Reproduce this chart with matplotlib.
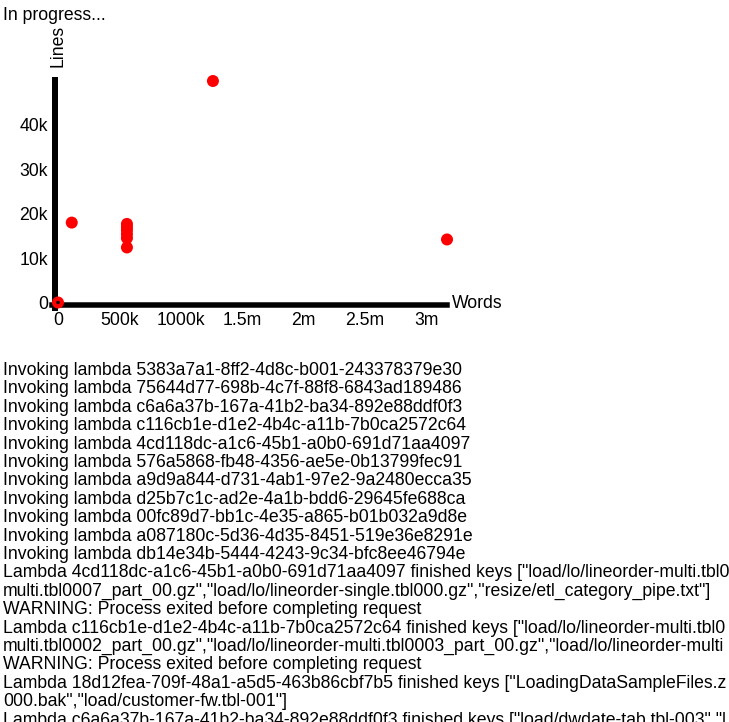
import matplotlib
matplotlib.use("Agg")
import matplotlib.pyplot as plt

plt.rcParams['font.family'] = ['Liberation Sans', 'DejaVu Sans']

# ---- data ----
words = [0, 112000, 562000, 562000, 562000, 562000, 562000, 562000, 1263000, 3171000]
lines = [0, 18000, 12400, 14500, 15400, 16300, 17000, 17700, 49900, 14200]
cursor_x = [0]
cursor_y = [0]

x_ticks = [0, 500000, 1000000, 1500000, 2000000, 2500000, 3000000]
x_tick_labels = ['0', '500k', '1000k', '1.5m', '2m', '2.5m', '3m']
y_ticks = [0, 10000, 20000, 30000, 40000]
y_tick_labels = ['0', '10k', '20k', '30k', '40k']

title_text = 'In progress...'
x_label = 'Words'
y_label = 'Lines'

log_lines = [
    'Invoking lambda 5383a7a1-8ff2-4d8c-b001-243378379e30',
    'Invoking lambda 75644d77-698b-4c7f-88f8-6843ad189486',
    'Invoking lambda c6a6a37b-167a-41b2-ba34-892e88ddf0f3',
    'Invoking lambda c116cb1e-d1e2-4b4c-a11b-7b0ca2572c64',
    'Invoking lambda 4cd118dc-a1c6-45b1-a0b0-691d71aa4097',
    'Invoking lambda 576a5868-fb48-4356-ae5e-0b13799fec91',
    'Invoking lambda a9d9a844-d731-4ab1-97e2-9a2480ecca35',
    'Invoking lambda d25b7c1c-ad2e-4a1b-bdd6-29645fe688ca',
    'Invoking lambda 00fc89d7-bb1c-4e35-a865-b01b032a9d8e',
    'Invoking lambda a087180c-5d36-4d35-8451-519e36e8291e',
    'Invoking lambda db14e34b-5444-4243-9c34-bfc8ee46794e',
    'Lambda 4cd118dc-a1c6-45b1-a0b0-691d71aa4097 finished keys ["load/lo/lineorder-multi.tbl0',
    'multi.tbl0007_part_00.gz","load/lo/lineorder-single.tbl000.gz","resize/etl_category_pipe.txt"]',
    'WARNING: Process exited before completing request',
    'Lambda c116cb1e-d1e2-4b4c-a11b-7b0ca2572c64 finished keys ["load/lo/lineorder-multi.tbl0',
    'multi.tbl0002_part_00.gz","load/lo/lineorder-multi.tbl0003_part_00.gz","load/lo/lineorder-multi',
    'WARNING: Process exited before completing request',
    'Lambda 18d12fea-709f-48a1-a5d5-463b86cbf7b5 finished keys ["LoadingDataSampleFiles.z',
    '000.bak","load/customer-fw.tbl-001"]',
    'Lambda c6a6a37b-167a-41b2-ba34-892e88ddf0f3 finished keys ["load/dwdate-tab.tbl-003","l',
]

# ---- layout (pixels) ----
W, H = 729, 722
FS = 12.7
def fx(px):
    return px / W
def fy(py):
    return 1 - py / H

fig = plt.figure(figsize=(W / 100, H / 100), dpi=100)
fig.patch.set_facecolor('white')

x0px, x1px = 58, 447
y0px, y1px = 302.5, 81
ax = fig.add_axes([fx(x0px), fy(y0px), (x1px - x0px) / W, (y0px - y1px) / H])
xmax = max(words)
ymax = max(lines)
ax.set_xlim(0, xmax)
ax.set_ylim(0, ymax)
ax.set_facecolor('none')

# axis lines
for s in ['top', 'right']:
    ax.spines[s].set_visible(False)
ax.spines['left'].set_linewidth(6 * 0.72)
ax.spines['bottom'].set_linewidth(5.5 * 0.72)
ax.spines['left'].set_position(('outward', 3 * 0.72))
ax.spines['bottom'].set_position(('outward', 3 * 0.72))
xpp = xmax / (x1px - x0px)
ypp = ymax / (y0px - y1px)
ax.spines['left'].set_bounds(-5.5 * ypp, ymax + 1 * ypp)
ax.spines['bottom'].set_bounds(-6 * xpp, xmax)
ax.spines['left'].set_clip_on(False)
ax.spines['bottom'].set_clip_on(False)

ax.set_xticks(x_ticks)
ax.set_xticklabels(x_tick_labels)
ax.set_yticks(y_ticks)
ax.set_yticklabels(y_tick_labels)
ax.tick_params(length=0, labelsize=FS, colors='black')
ax.tick_params(axis='x', pad=10 * 0.72 - 2.16)
ax.tick_params(axis='y', pad=10 * 0.72 - 2.16)

ax.scatter(words, lines, s=(12 * 0.72) ** 2, color='#ff0000', edgecolors='none',
           clip_on=False, zorder=3)
ax.scatter(cursor_x, cursor_y, s=(3.5 * 0.72) ** 2, color='black', edgecolors='none',
           clip_on=False, zorder=4)

fig.text(fx(452), fy(303.5), x_label, fontsize=FS, ha='left', va='center')
fig.text(fx(58.5), fy(67), y_label, fontsize=FS, rotation=90, ha='center', va='bottom')
fig.text(fx(3), fy(20), title_text, fontsize=FS, ha='left', va='baseline')

for i, line in enumerate(log_lines):
    fig.text(fx(3), fy(375 + i * 18.4), line, fontsize=FS, ha='left', va='baseline')

fig.savefig('out.png', dpi=100, facecolor='white')
